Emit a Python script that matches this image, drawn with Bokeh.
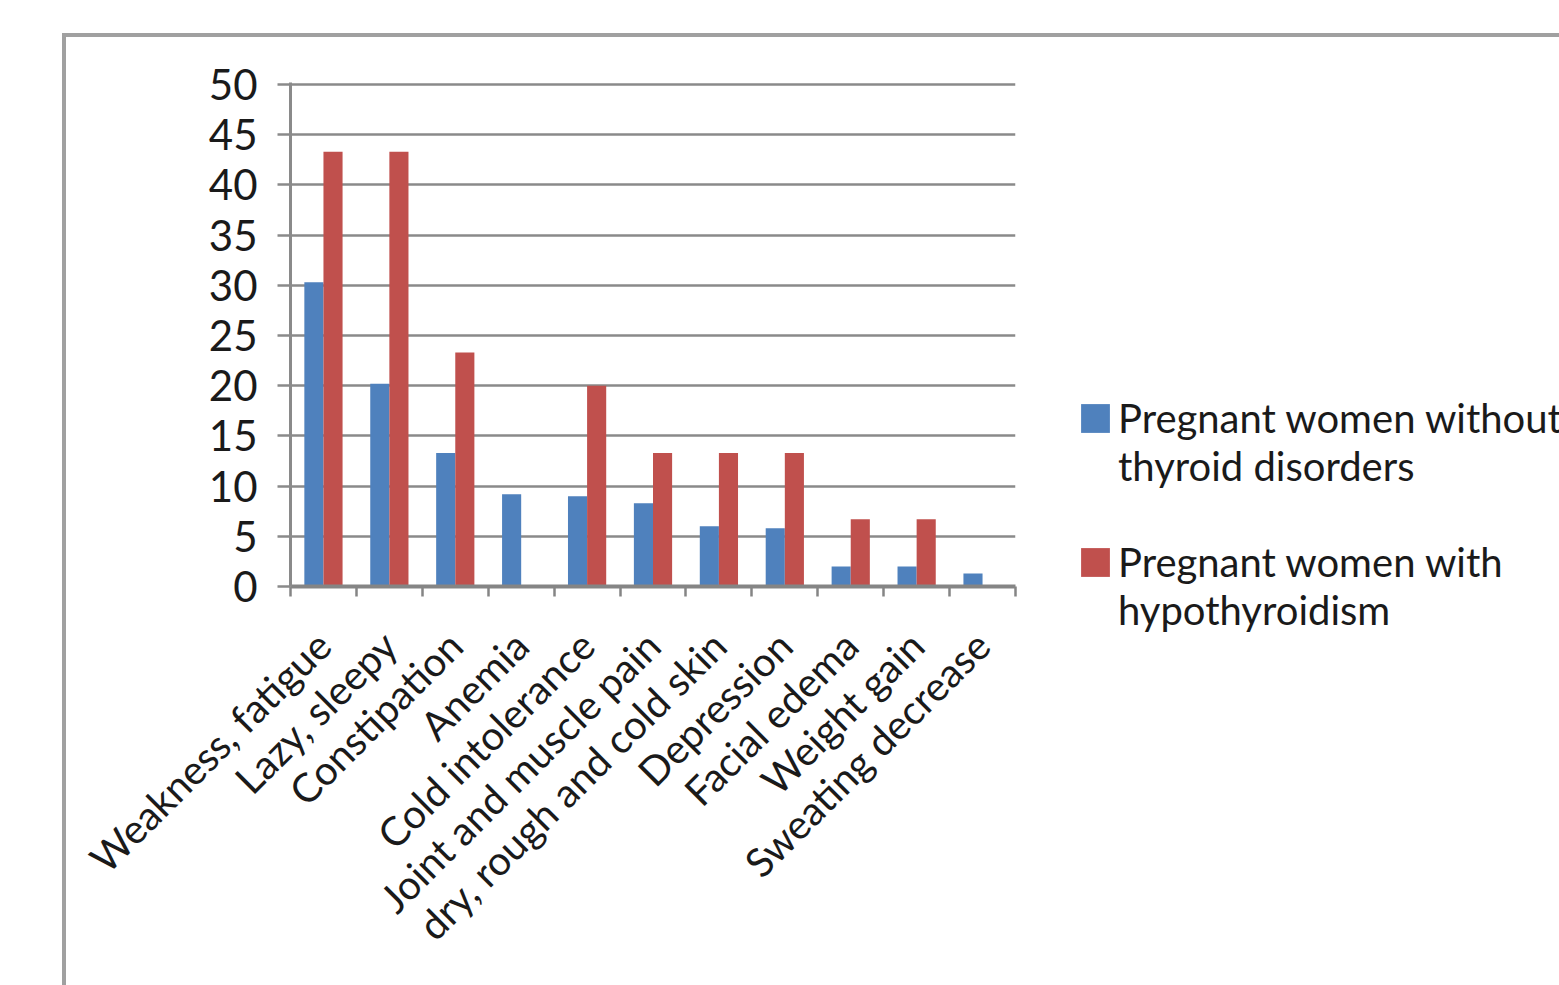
import math
from bokeh.plotting import figure
from bokeh.models import (Range1d, LinearAxis, FixedTicker, ColumnDataSource, Legend,
                          LegendItem)
from bokeh.transform import dodge
from bokeh.embed import file_html
from bokeh.resources import INLINE

categories = ["Weakness, fatigue", "Lazy, sleepy", "Constipation", "Anemia",
              "Cold intolerance", "Joint and muscle pain", "dry, rough and cold skin",
              "Depression", "Facial edema", "Weight gain", "Sweating decrease"]
without_thyroid = [30.3, 20.2, 13.3, 9.2, 9.0, 8.3, 6.0, 5.8, 2.0, 2.0, 1.3]
with_hypothyroidism = [43.3, 43.3, 23.3, 0.0, 20.0, 13.3, 13.3, 13.3, 6.7, 6.7, 0.0]
y_ticks = [0, 5, 10, 15, 20, 25, 30, 35, 40, 45, 50]
series_labels = ["Pregnant women without\nthyroid disorders",
                 "Pregnant women with\nhypothyroidism"]
series_colors = ["#4F81BD", "#C0504D"]

FONT = "Lato"
GRID = "#8a8a8a"
TEXT = "#1a1a1a"

n = len(categories)
centers = [i + 0.5 for i in range(n)]
source = ColumnDataSource(dict(x=centers, a=without_thyroid, b=with_hypothyroidism))

OX, OY = 66, 37   # canvas offset (outer chart border drawn by CSS)
p = figure(frame_width=725, frame_height=504, output_backend="svg", toolbar_location=None,
           x_range=Range1d(0, n), y_range=Range1d(0, 50.2),
           x_axis_location=None, y_axis_location=None,
           min_border_left=290 - OX, min_border_right=0, min_border_top=82 - OY,
           min_border_bottom=399)
p.margin = (33, 0, 0, 62)
p.styles = {"border-left": "4px solid #a0a0a0", "border-top": "4px solid #a0a0a0"}
p.outline_line_color = None
p.background_fill_color = "white"
p.border_fill_color = "white"

bw = 0.29
r1 = p.vbar(x=dodge("x", -bw / 2), top="a", width=bw, source=source,
            fill_color=series_colors[0], line_color=None)
r2 = p.vbar(x=dodge("x", bw / 2), top="b", width=bw, source=source,
            fill_color=series_colors[1], line_color=None)

# y axis
yax = LinearAxis(ticker=FixedTicker(ticks=y_ticks))
yax.axis_line_color = GRID
yax.axis_line_width = 3
yax.major_tick_line_color = GRID
yax.major_tick_line_width = 2.5
yax.major_tick_out = 13
yax.major_tick_in = 0
yax.minor_tick_line_color = None
yax.major_label_standoff = 20
yax.major_label_text_font = FONT
yax.major_label_text_font_size = "42px"
yax.major_label_text_color = TEXT
p.add_layout(yax, "left")

p.ygrid.ticker = FixedTicker(ticks=y_ticks)
p.ygrid.grid_line_color = GRID
p.ygrid.grid_line_width = 2.5
p.xgrid.grid_line_color = None

# x axis: labels at category centers, tick marks at category boundaries
xax = LinearAxis(ticker=FixedTicker(ticks=centers, minor_ticks=list(range(n + 1))))
xax.major_label_overrides = {c: lab for c, lab in zip(centers, categories)}
xax.axis_line_color = "#858585"
xax.axis_line_width = 4
xax.major_tick_line_color = None
xax.major_tick_out = 0
xax.major_tick_in = 0
xax.minor_tick_line_color = "#858585"
xax.minor_tick_line_width = 2.5
xax.minor_tick_out = 10
xax.minor_tick_in = 0
xax.major_label_orientation = math.pi / 4
xax.major_label_standoff = 42
xax.major_label_text_font = FONT
xax.major_label_text_font_size = "40px"
xax.major_label_text_color = TEXT
p.add_layout(xax, "below")

# leading blank line keeps each swatch level with the first line of its label
legend = Legend(items=[LegendItem(label="\n" + series_labels[0], renderers=[r1]),
                       LegendItem(label="\n" + series_labels[1], renderers=[r2])],
                location=(62, -48))
legend.label_text_font = FONT
legend.label_text_font_size = "40px"
legend.label_text_color = TEXT
legend.glyph_width = 36
legend.glyph_height = 36
legend.label_standoff = 5
legend.spacing = -10
legend.padding = 0
legend.margin = 0
legend.border_line_color = None
legend.background_fill_alpha = 0
p.add_layout(legend, "right")

open("out.html", "w").write(file_html(p, INLINE))
